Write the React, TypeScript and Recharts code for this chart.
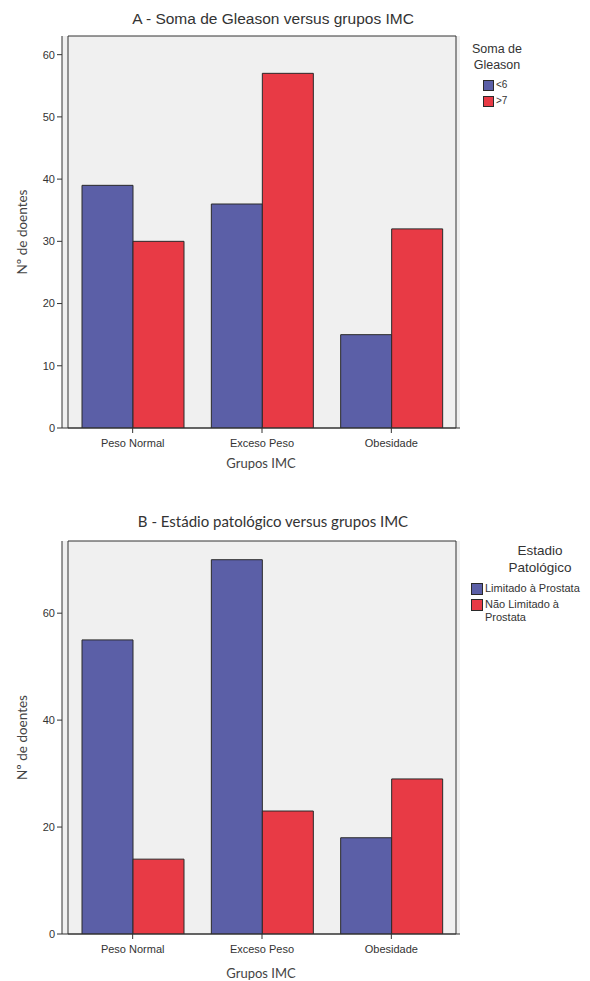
import { BarChart, Bar, XAxis, YAxis, CartesianGrid, Legend, ReferenceArea } from "recharts";

const categories = ["Peso Normal", "Exceso Peso", "Obesidade"];
const gleasonLow = [39, 36, 15];
const gleasonHigh = [30, 57, 32];
const limitado = [55, 70, 18];
const naoLimitado = [14, 23, 29];
const ticksA = [0, 10, 20, 30, 40, 50, 60];
const ticksB = [0, 20, 40, 60];

const BLUE = "#5b5fa7";
const RED = "#e83a45";
const EDGE = "#2a2a2a";
const ARIAL = "'Liberation Sans', Arial, sans-serif";
const CALIBRI = "Lato, 'Open Sans', sans-serif";

const dataA = categories.map((c, i) => ({ c, low: gleasonLow[i], high: gleasonHigh[i] }));
const dataB = categories.map((c, i) => ({ c, lim: limitado[i], nao: naoLimitado[i] }));

type LegendOpts = {
  title: string[];
  titleSize: number;
  titleX: number;
  itemSize: number;
  swatch: number;
  indent: number;
  rowGap: number;
  textWidth: number;
};

function makeLegend(o: LegendOpts) {
  return (props: any) => (
    <div style={{ fontFamily: ARIAL, color: "#333" }}>
      <div
        style={{
          width: o.titleX * 2,
          textAlign: "center",
          fontSize: o.titleSize,
          lineHeight: `${o.titleSize + 3}px`,
          marginBottom: 6,
        }}
      >
        {o.title.map((t) => (
          <div key={t}>{t}</div>
        ))}
      </div>
      {(props.payload || []).map((p: any) => (
        <div
          key={p.value}
          style={{ display: "flex", alignItems: "flex-start", marginBottom: o.rowGap, marginLeft: o.indent }}
        >
          <div
            style={{
              width: o.swatch,
              height: o.swatch,
              background: p.color,
              border: `1px solid ${EDGE}`,
              boxSizing: "border-box",
              marginTop: 1,
              marginRight: 2,
              flexShrink: 0,
            }}
          />
          <div style={{ fontSize: o.itemSize, lineHeight: `${o.itemSize + 2}px`, width: o.textWidth }}>
            {p.value}
          </div>
        </div>
      ))}
    </div>
  );
}

const frame = "#333";

export default function App() {
  return (
    <div style={{ position: "absolute", left: 0, top: 0, width: 590, height: 981, background: "#fff" }}>
      <div
        style={{
          position: "absolute",
          top: 10,
          left: 0,
          width: 546,
          textAlign: "center",
          fontFamily: ARIAL,
          fontSize: 15.5,
          color: "#333",
        }}
      >
        A - Soma de Gleason versus grupos IMC
      </div>
      <div style={{ position: "absolute", top: 0, left: 0 }}>
        <BarChart
          width={590}
          height={490}
          data={dataA}
          margin={{ top: 36, right: 130, left: 14, bottom: 18 }}
          barGap={0}
          barCategoryGap={14}
        >
          <CartesianGrid horizontal={false} vertical={false} fill="#f0f0f0" />
          <ReferenceArea y1={0} y2={63} fill="none" stroke={frame} strokeWidth={1} />
          <XAxis
            dataKey="c"
            height={44}
            padding={{ left: 6, right: 4 }}
            stroke={frame}
            tickSize={5}
            tickMargin={6}
            tick={{ fontSize: 11, fill: "#333", fontFamily: ARIAL }}
            label={{
              value: "Grupos IMC",
              position: "insideBottom",
              offset: 4,
              style: { fontSize: 13, fill: "#444", fontFamily: CALIBRI },
            }}
          />
          <YAxis
            width={48}
            domain={[0, 63]}
            ticks={ticksA}
            allowDataOverflow
            stroke={frame}
            tickSize={5}
            tickMargin={2}
            tick={{ fontSize: 11, fill: "#333", fontFamily: ARIAL }}
            label={{
              value: "Nº de doentes",
              angle: -90,
              position: "insideLeft",
              offset: 8,
              style: { textAnchor: "middle", fontSize: 13.5, fill: "#444", fontFamily: CALIBRI },
            }}
          />
          <Legend
            layout="horizontal"
            align="center"
            verticalAlign="middle"
            wrapperStyle={{ position: "absolute", left: 470, top: 42, width: 120, height: 80 }}
            content={makeLegend({
              title: ["Soma de", "Gleason"],
              titleSize: 12.5,
              titleX: 27,
              itemSize: 10,
              swatch: 11,
              indent: 13,
              rowGap: 4,
              textWidth: 90,
            })}
          />
          <Bar dataKey="low" name="<6" fill={BLUE} stroke={EDGE} strokeWidth={1} isAnimationActive={false} />
          <Bar dataKey="high" name=">7" fill={RED} stroke={EDGE} strokeWidth={1} isAnimationActive={false} />
        </BarChart>
      </div>

      <div
        style={{
          position: "absolute",
          top: 512,
          left: 0,
          width: 546,
          textAlign: "center",
          fontFamily: CALIBRI,
          fontSize: 15,
          color: "#333",
        }}
      >
        B - Estádio patológico versus grupos IMC
      </div>
      <div style={{ position: "absolute", top: 490, left: 0 }}>
        <BarChart
          width={590}
          height={491}
          data={dataB}
          margin={{ top: 51, right: 130, left: 14, bottom: 3 }}
          barGap={0}
          barCategoryGap={14}
        >
          <CartesianGrid horizontal={false} vertical={false} fill="#f0f0f0" />
          <ReferenceArea y1={0} y2={73.5} fill="none" stroke={frame} strokeWidth={1} />
          <XAxis
            dataKey="c"
            height={44}
            padding={{ left: 6, right: 4 }}
            stroke={frame}
            tickSize={5}
            tickMargin={6}
            tick={{ fontSize: 11, fill: "#333", fontFamily: ARIAL }}
            label={{
              value: "Grupos IMC",
              position: "insideBottom",
              offset: 0,
              style: { fontSize: 13, fill: "#444", fontFamily: CALIBRI },
            }}
          />
          <YAxis
            width={48}
            domain={[0, 73.5]}
            ticks={ticksB}
            allowDataOverflow
            stroke={frame}
            tickSize={5}
            tickMargin={2}
            tick={{ fontSize: 11, fill: "#333", fontFamily: ARIAL }}
            label={{
              value: "Nº de doentes",
              angle: -90,
              position: "insideLeft",
              offset: 8,
              style: { textAnchor: "middle", fontSize: 13.5, fill: "#444", fontFamily: CALIBRI },
            }}
          />
          <Legend
            layout="horizontal"
            align="center"
            verticalAlign="middle"
            wrapperStyle={{ position: "absolute", left: 471, top: 53, width: 119, height: 100 }}
            content={makeLegend({
              title: ["Estadio", "Patológico"],
              titleSize: 13.5,
              titleX: 69,
              itemSize: 11,
              swatch: 12,
              indent: 0,
              rowGap: 3,
              textWidth: 105,
            })}
          />
          <Bar dataKey="lim" name="Limitado à Prostata" fill={BLUE} stroke={EDGE} strokeWidth={1} isAnimationActive={false} />
          <Bar dataKey="nao" name="Não Limitado à Prostata" fill={RED} stroke={EDGE} strokeWidth={1} isAnimationActive={false} />
        </BarChart>
      </div>
    </div>
  );
}
